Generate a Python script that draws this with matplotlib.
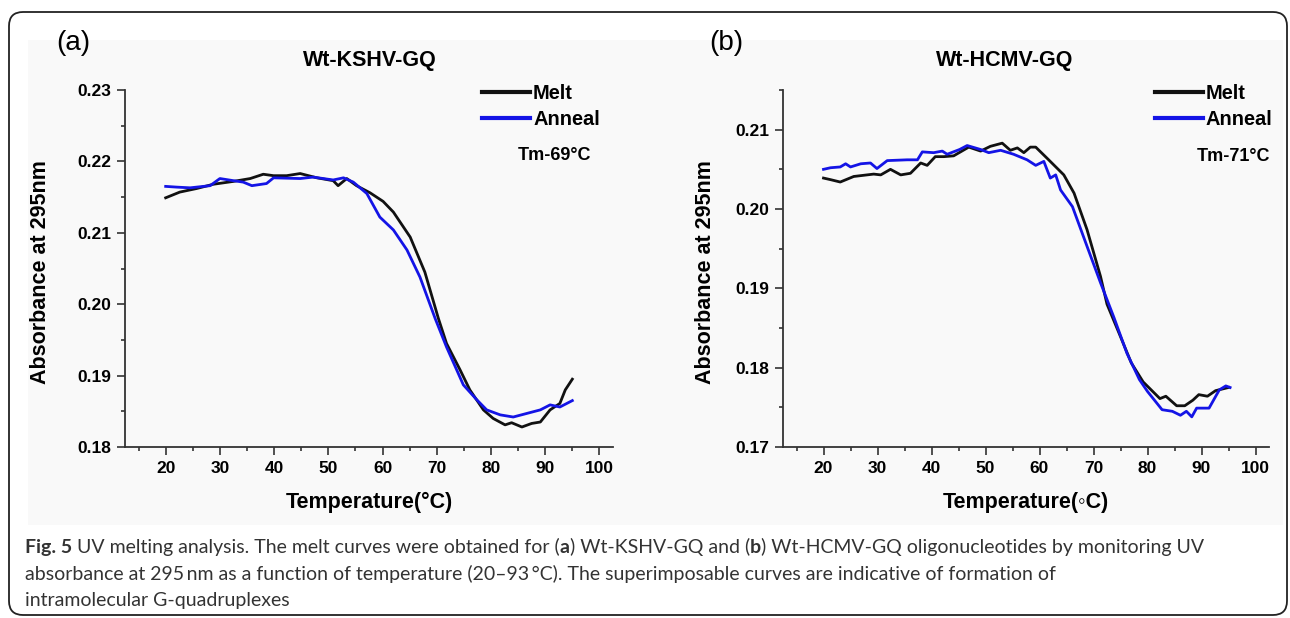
import matplotlib
matplotlib.use("Agg")
import matplotlib.pyplot as plt
from matplotlib.patches import FancyBboxPatch, Rectangle
from matplotlib.ticker import MultipleLocator, FormatStrFormatter

plt.rcParams["font.family"] = ["Liberation Sans", "DejaVu Sans"]

# ---- data ----
melt_a_t = [20, 22.6, 25.7, 28.8, 32.5, 35.6, 38.0, 39.9, 42.3, 44.8, 47.9, 50.9, 51.8, 53.4,
            55.2, 57.7, 60.1, 62.0, 65.1, 67.8, 70.3, 71.8, 74.3, 76.1, 78.6, 80.4, 82.6, 83.8,
            85.7, 87.5, 89.1, 90.9, 92.7, 93.7, 95.0]
melt_a = [0.2149, 0.2157, 0.2162, 0.2168, 0.2172, 0.2176, 0.2182, 0.2180, 0.2180, 0.2183,
          0.2177, 0.2173, 0.2166, 0.2176, 0.2166, 0.2156, 0.2144, 0.2129, 0.2094, 0.2045,
          0.1980, 0.1945, 0.1908, 0.1880, 0.1852, 0.1840, 0.1831, 0.1834, 0.1828, 0.1833,
          0.1835, 0.1852, 0.1861, 0.1880, 0.1895]

anneal_a_t = [20, 22.0, 24.5, 28.2, 30.0, 32.5, 34.3, 35.9, 38.6, 39.9, 44.8, 47.2, 50.9, 52.8,
              54.6, 57.1, 59.5, 62.0, 64.5, 66.9, 69.7, 71.8, 74.9, 77.4, 79.2, 81.7, 84.1,
              86.6, 89.1, 90.9, 92.7, 95.0]
anneal_a = [0.2165, 0.2164, 0.2163, 0.2166, 0.2176, 0.2173, 0.2171, 0.2166, 0.2169, 0.2177,
            0.2176, 0.2178, 0.2174, 0.2177, 0.2171, 0.2155, 0.2122, 0.2104, 0.2076, 0.2038,
            0.1980, 0.1940, 0.1887, 0.1866, 0.1852, 0.1845, 0.1842, 0.1847, 0.1852, 0.1859,
            0.1856, 0.1865]

melt_b_t = [20, 21.3, 23.1, 25.6, 29.3, 30.6, 32.4, 34.3, 36.1, 38.0, 39.2, 40.7, 42.3, 44.1,
            46.9, 49.1, 50.9, 53.1, 54.6, 55.9, 57.1, 58.3, 59.3, 61.4, 64.5, 66.4, 68.8, 71.3,
            72.5, 74.7, 77.0, 79.2, 82.3, 83.4, 85.4, 86.9, 88.4, 89.5, 91.1, 92.6, 95.0]
melt_b = [0.2039, 0.2037, 0.2034, 0.2041, 0.2044, 0.2043, 0.2050, 0.2043, 0.2045, 0.2058,
          0.2055, 0.2066, 0.2066, 0.2067, 0.2078, 0.2073, 0.2079, 0.2083, 0.2074, 0.2077,
          0.2071, 0.2078, 0.2078, 0.2064, 0.2043, 0.2020, 0.1974, 0.1915, 0.1880, 0.1844,
          0.1806, 0.1782, 0.1761, 0.1764, 0.1752, 0.1752, 0.1759, 0.1766, 0.1764, 0.1771,
          0.1775]

anneal_b_t = [20, 21.3, 23.1, 24.1, 25.0, 26.9, 28.7, 29.9, 31.8, 35.5, 37.4, 38.3, 40.4, 42.0,
              42.9, 45.2, 46.6, 49.1, 50.6, 52.8, 55.2, 57.7, 59.3, 60.8, 62.0, 63.0, 63.9,
              66.1, 68.8, 71.3, 73.8, 76.2, 78.5, 80.0, 82.7, 84.6, 86.1, 87.2, 88.2, 89.1,
              91.4, 93.3, 94.5, 95.3]
anneal_b = [0.2050, 0.2052, 0.2053, 0.2057, 0.2053, 0.2057, 0.2058, 0.2051, 0.2061, 0.2062,
            0.2062, 0.2072, 0.2071, 0.2073, 0.2069, 0.2075, 0.2080, 0.2075, 0.2071, 0.2074,
            0.2069, 0.2062, 0.2055, 0.2060, 0.2039, 0.2043, 0.2024, 0.2003, 0.1953, 0.1907,
            0.1863, 0.1818, 0.1785, 0.1770, 0.1747, 0.1745, 0.1740, 0.1745, 0.1738, 0.1749,
            0.1749, 0.1772, 0.1777, 0.1775]

titles = ["Wt-KSHV-GQ", "Wt-HCMV-GQ"]
tm_labels = ["Tm-69\u00b0C", "Tm-71\u00b0C"]
xlabels = ["Temperature(\u00b0C)", "Temperature(\u25e6C)"]
ylabel = "Absorbance at 295nm"
ylims = [(0.18, 0.23), (0.17, 0.215)]

W, H = 1290, 618
fig = plt.figure(figsize=(W / 100, H / 100), dpi=100)

# faint scanned background + rounded border
fig.patches.append(Rectangle((28 / W, 1 - 525 / H), 1255 / W, 485 / H, transform=fig.transFigure,
                             facecolor="#f9f9f9", edgecolor="none", zorder=-10))
fig.patches.append(FancyBboxPatch((0.09, 0.03), 12.78, 6.03, boxstyle="round,pad=0,rounding_size=0.14",
                                  transform=fig.dpi_scale_trans, facecolor="none",
                                  edgecolor="#222222", linewidth=1.3, zorder=-5))

ax_a = fig.add_axes([125 / W, 1 - 447 / H, 488 / W, 357 / H])
ax_b = fig.add_axes([783 / W, 1 - 447 / H, 486 / W, 357 / H])

blue = "#1414e6"
for i, (ax, mt, mv, at, av) in enumerate([(ax_a, melt_a_t, melt_a, anneal_a_t, anneal_a),
                                          (ax_b, melt_b_t, melt_b, anneal_b_t, anneal_b)]):
    ax.patch.set_alpha(0)
    ax.plot(mt, mv, color="#111111", lw=2.0, label="Melt")
    ax.plot(at, av, color=blue, lw=2.0, label="Anneal")
    ax.set_xlim(12.5, 102.5)
    ax.set_ylim(*ylims[i])
    ax.xaxis.set_major_locator(MultipleLocator(10))
    ax.xaxis.set_minor_locator(MultipleLocator(5))
    ax.yaxis.set_major_locator(MultipleLocator(0.01))
    ax.yaxis.set_minor_locator(MultipleLocator(0.005))
    ax.yaxis.set_major_formatter(FormatStrFormatter("%.2f"))
    ax.set_xticks([20, 30, 40, 50, 60, 70, 80, 90, 100])
    for s in ["top", "right"]:
        ax.spines[s].set_visible(False)
    for s in ["left", "bottom"]:
        ax.spines[s].set_color("#333333")
        ax.spines[s].set_linewidth(1.3)
    ax.tick_params(which="major", direction="out", length=6, width=1.2, color="#333333",
                   labelsize=12.5, pad=4)
    ax.tick_params(which="minor", direction="out", length=3, width=1.2, color="#333333")
    for lab in ax.get_xticklabels() + ax.get_yticklabels():
        lab.set_fontweight("bold")
    ax.set_xlabel(xlabels[i], fontsize=15.5, fontweight="bold", family=["Liberation Sans", "DejaVu Sans"])
    ax.xaxis.set_label_coords(0.5, -0.126)
    ax.set_ylabel(ylabel, fontsize=15.5, fontweight="bold")
    leg = ax.legend(loc="upper left", frameon=False, prop={"weight": "bold", "size": 14.4},
                    handlelength=2.4, handletextpad=0.15, labelspacing=0.35, borderpad=0,
                    borderaxespad=0,
                    bbox_to_anchor=((482 if i == 0 else 1155) / W, 1 - 84 / H),
                    bbox_transform=fig.transFigure)
    for ln in leg.get_lines():
        ln.set_linewidth(3)

ax_a.yaxis.set_label_coords(-0.1516, 0.4888)
ax_b.yaxis.set_label_coords(-0.1379, 0.4888)

# panel titles and tags
fig.text(370 / W, 1 - 66 / H, titles[0], ha="center", va="baseline", fontsize=15.5, fontweight="bold")
fig.text(1005 / W, 1 - 66 / H, titles[1], ha="center", va="baseline", fontsize=15.5, fontweight="bold")
fig.text(73 / W, 1 - 42.5 / H, "(a)", ha="center", va="center", fontsize=20)
fig.text(726 / W, 1 - 42.5 / H, "(b)", ha="center", va="center", fontsize=20)
fig.text(518 / W, 1 - 155 / H, tm_labels[0], ha="left", va="center", fontsize=13, fontweight="bold")
fig.text(1197 / W, 1 - 156.7 / H, tm_labels[1], ha="left", va="center", fontsize=13, fontweight="bold")

# caption
cap_lines = [
    [("Fig. 5", "bold"), (" UV melting analysis. The melt curves were obtained for (", "normal"),
     ("a", "bold"), (") Wt-KSHV-GQ and (", "normal"), ("b", "bold"),
     (") Wt-HCMV-GQ oligonucleotides by monitoring UV", "normal")],
    [("absorbance at 295\u2009nm as a function of temperature (20\u201393\u2009\u00b0C). "
      "The superimposable curves are indicative of formation of", "normal")],
    [("intramolecular G-quadruplexes", "normal")],
]
cap_base = [553, 580, 606]
renderer = fig.canvas.get_renderer()
for runs, yb in zip(cap_lines, cap_base):
    x = 25 / W
    for s, w in runs:
        t = fig.text(x, 1 - yb / H, s, ha="left", va="baseline", fontsize=14, fontweight=w,
                     color="#333333", family=["Lato", "DejaVu Sans"])
        x += t.get_window_extent(renderer).width / W

fig.savefig("out.png", dpi=100)
